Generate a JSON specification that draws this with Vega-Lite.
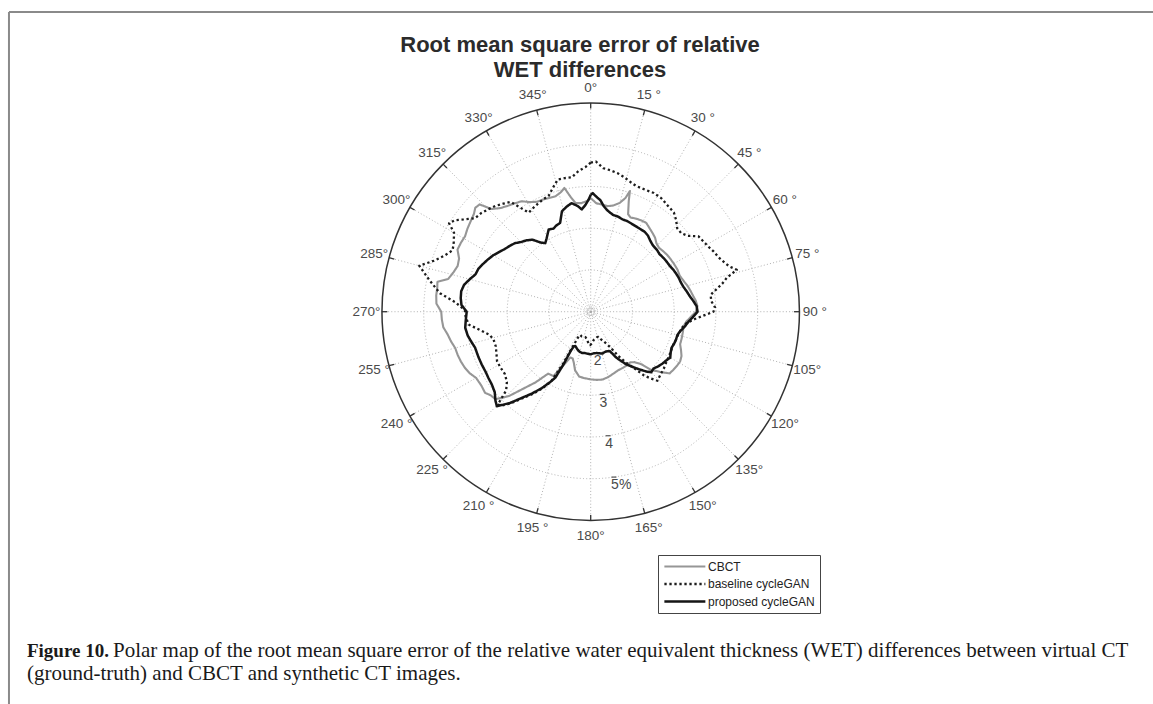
{
  "$schema": "https://vega.github.io/schema/vega-lite/v6.json",
  "width": 1153,
  "height": 704,
  "autosize": "none",
  "padding": 0,
  "background": "white",
  "config": {"view": {"stroke": null}, "font": "Liberation Sans"},
  "datasets": {
    "curves": [
      {"series":"CBCT","angle":0,"value":3.72},{"series":"CBCT","angle":3,"value":3.6},{"series":"CBCT","angle":6,"value":3.58},{"series":"CBCT","angle":9,"value":3.56},{"series":"CBCT","angle":12,"value":3.6},{"series":"CBCT","angle":15,"value":3.7},{"series":"CBCT","angle":17,"value":3.85},{"series":"CBCT","angle":18,"value":4.04},{"series":"CBCT","angle":19,"value":3.8},{"series":"CBCT","angle":21,"value":3.5},{"series":"CBCT","angle":23,"value":3.45},{"series":"CBCT","angle":26,"value":3.48},{"series":"CBCT","angle":29,"value":3.5},{"series":"CBCT","angle":32,"value":3.51},{"series":"CBCT","angle":35,"value":3.45},{"series":"CBCT","angle":38,"value":3.4},{"series":"CBCT","angle":41,"value":3.35},{"series":"CBCT","angle":44,"value":3.27},{"series":"CBCT","angle":47,"value":3.24},{"series":"CBCT","angle":50,"value":3.26},{"series":"CBCT","angle":53,"value":3.28},{"series":"CBCT","angle":56,"value":3.29},{"series":"CBCT","angle":60,"value":3.3},{"series":"CBCT","angle":64,"value":3.31},{"series":"CBCT","angle":68,"value":3.3},{"series":"CBCT","angle":72,"value":3.35},{"series":"CBCT","angle":75,"value":3.4},{"series":"CBCT","angle":78,"value":3.44},{"series":"CBCT","angle":81,"value":3.48},{"series":"CBCT","angle":84,"value":3.53},{"series":"CBCT","angle":87,"value":3.56},{"series":"CBCT","angle":90,"value":3.52},{"series":"CBCT","angle":93,"value":3.4},{"series":"CBCT","angle":96,"value":3.3},{"series":"CBCT","angle":99,"value":3.25},{"series":"CBCT","angle":102,"value":3.26},{"series":"CBCT","angle":106,"value":3.27},{"series":"CBCT","angle":110,"value":3.28},{"series":"CBCT","angle":113,"value":3.35},{"series":"CBCT","angle":116,"value":3.42},{"series":"CBCT","angle":119,"value":3.45},{"series":"CBCT","angle":122,"value":3.44},{"series":"CBCT","angle":125,"value":3.42},{"series":"CBCT","angle":128,"value":3.4},{"series":"CBCT","angle":131,"value":3.2},{"series":"CBCT","angle":134,"value":3.0},{"series":"CBCT","angle":136,"value":2.75},{"series":"CBCT","angle":139,"value":2.6},{"series":"CBCT","angle":142,"value":2.54},{"series":"CBCT","angle":146,"value":2.55},{"series":"CBCT","angle":150,"value":2.55},{"series":"CBCT","angle":155,"value":2.55},{"series":"CBCT","angle":160,"value":2.58},{"series":"CBCT","angle":165,"value":2.62},{"series":"CBCT","angle":170,"value":2.65},{"series":"CBCT","angle":175,"value":2.64},{"series":"CBCT","angle":180,"value":2.62},{"series":"CBCT","angle":185,"value":2.6},{"series":"CBCT","angle":190,"value":2.58},{"series":"CBCT","angle":195,"value":2.45},{"series":"CBCT","angle":198,"value":2.3},{"series":"CBCT","angle":201,"value":2.2},{"series":"CBCT","angle":204,"value":2.2},{"series":"CBCT","angle":207,"value":2.45},{"series":"CBCT","angle":210,"value":2.78},{"series":"CBCT","angle":214.5,"value":2.8},{"series":"CBCT","angle":218,"value":3.15},{"series":"CBCT","angle":221.5,"value":3.48},{"series":"CBCT","angle":224,"value":3.8},{"series":"CBCT","angle":227.4,"value":4.1},{"series":"CBCT","angle":230,"value":4.12},{"series":"CBCT","angle":232.5,"value":4.19},{"series":"CBCT","angle":236,"value":4.16},{"series":"CBCT","angle":240,"value":4.17},{"series":"CBCT","angle":243,"value":4.25},{"series":"CBCT","angle":246,"value":4.3},{"series":"CBCT","angle":249,"value":4.33},{"series":"CBCT","angle":252,"value":4.35},{"series":"CBCT","angle":255,"value":4.36},{"series":"CBCT","angle":258,"value":4.42},{"series":"CBCT","angle":261,"value":4.47},{"series":"CBCT","angle":264,"value":4.55},{"series":"CBCT","angle":267,"value":4.57},{"series":"CBCT","angle":270,"value":4.58},{"series":"CBCT","angle":273,"value":4.7},{"series":"CBCT","angle":276,"value":4.72},{"series":"CBCT","angle":279,"value":4.72},{"series":"CBCT","angle":281,"value":4.74},{"series":"CBCT","angle":283,"value":4.5},{"series":"CBCT","angle":286,"value":4.42},{"series":"CBCT","angle":289,"value":4.37},{"series":"CBCT","angle":292,"value":4.4},{"series":"CBCT","angle":295,"value":4.52},{"series":"CBCT","angle":298,"value":4.52},{"series":"CBCT","angle":301,"value":4.51},{"series":"CBCT","angle":304,"value":4.56},{"series":"CBCT","angle":307,"value":4.6},{"series":"CBCT","angle":310,"value":4.65},{"series":"CBCT","angle":312,"value":4.72},{"series":"CBCT","angle":314,"value":4.7},{"series":"CBCT","angle":316,"value":4.42},{"series":"CBCT","angle":319,"value":4.29},{"series":"CBCT","angle":322,"value":4.22},{"series":"CBCT","angle":325,"value":4.17},{"series":"CBCT","angle":328,"value":4.12},{"series":"CBCT","angle":331,"value":4.0},{"series":"CBCT","angle":334,"value":3.93},{"series":"CBCT","angle":337,"value":3.92},{"series":"CBCT","angle":340,"value":3.9},{"series":"CBCT","angle":343,"value":3.89},{"series":"CBCT","angle":346,"value":3.95},{"series":"CBCT","angle":348,"value":4.03},{"series":"CBCT","angle":350,"value":3.8},{"series":"CBCT","angle":352,"value":3.63},{"series":"CBCT","angle":355,"value":3.61},{"series":"CBCT","angle":358,"value":3.65},{"series":"CBCT","angle":360,"value":3.72},
      {"series":"baseline cycleGAN","angle":0,"value":4.57},{"series":"baseline cycleGAN","angle":2,"value":4.6},{"series":"baseline cycleGAN","angle":5,"value":4.45},{"series":"baseline cycleGAN","angle":8,"value":4.42},{"series":"baseline cycleGAN","angle":11,"value":4.38},{"series":"baseline cycleGAN","angle":14,"value":4.32},{"series":"baseline cycleGAN","angle":17,"value":4.25},{"series":"baseline cycleGAN","angle":20,"value":4.2},{"series":"baseline cycleGAN","angle":24,"value":4.2},{"series":"baseline cycleGAN","angle":28,"value":4.22},{"series":"baseline cycleGAN","angle":32,"value":4.2},{"series":"baseline cycleGAN","angle":36,"value":4.14},{"series":"baseline cycleGAN","angle":40,"value":4.1},{"series":"baseline cycleGAN","angle":43,"value":4.0},{"series":"baseline cycleGAN","angle":46,"value":3.88},{"series":"baseline cycleGAN","angle":49,"value":3.87},{"series":"baseline cycleGAN","angle":52,"value":3.95},{"series":"baseline cycleGAN","angle":55,"value":4.15},{"series":"baseline cycleGAN","angle":58,"value":4.18},{"series":"baseline cycleGAN","angle":61,"value":4.22},{"series":"baseline cycleGAN","angle":64,"value":4.28},{"series":"baseline cycleGAN","angle":67,"value":4.33},{"series":"baseline cycleGAN","angle":70,"value":4.42},{"series":"baseline cycleGAN","angle":72,"value":4.5},{"series":"baseline cycleGAN","angle":74,"value":4.64},{"series":"baseline cycleGAN","angle":76,"value":4.36},{"series":"baseline cycleGAN","angle":78,"value":4.22},{"series":"baseline cycleGAN","angle":80,"value":4.05},{"series":"baseline cycleGAN","angle":82,"value":3.9},{"series":"baseline cycleGAN","angle":85,"value":3.9},{"series":"baseline cycleGAN","angle":88,"value":3.98},{"series":"baseline cycleGAN","angle":90,"value":3.94},{"series":"baseline cycleGAN","angle":92,"value":3.7},{"series":"baseline cycleGAN","angle":94,"value":3.5},{"series":"baseline cycleGAN","angle":97,"value":3.3},{"series":"baseline cycleGAN","angle":100,"value":3.22},{"series":"baseline cycleGAN","angle":104,"value":3.17},{"series":"baseline cycleGAN","angle":108,"value":3.15},{"series":"baseline cycleGAN","angle":112,"value":3.13},{"series":"baseline cycleGAN","angle":116,"value":3.14},{"series":"baseline cycleGAN","angle":120,"value":3.16},{"series":"baseline cycleGAN","angle":124,"value":3.18},{"series":"baseline cycleGAN","angle":128,"value":3.22},{"series":"baseline cycleGAN","angle":132,"value":3.25},{"series":"baseline cycleGAN","angle":136,"value":3.3},{"series":"baseline cycleGAN","angle":138,"value":3.15},{"series":"baseline cycleGAN","angle":140,"value":3.0},{"series":"baseline cycleGAN","angle":142,"value":2.75},{"series":"baseline cycleGAN","angle":145,"value":2.5},{"series":"baseline cycleGAN","angle":148,"value":2.25},{"series":"baseline cycleGAN","angle":151,"value":1.98},{"series":"baseline cycleGAN","angle":154,"value":1.85},{"series":"baseline cycleGAN","angle":157,"value":1.76},{"series":"baseline cycleGAN","angle":160,"value":1.7},{"series":"baseline cycleGAN","angle":163,"value":1.63},{"series":"baseline cycleGAN","angle":166,"value":1.63},{"series":"baseline cycleGAN","angle":170,"value":1.66},{"series":"baseline cycleGAN","angle":174,"value":1.68},{"series":"baseline cycleGAN","angle":178,"value":1.76},{"series":"baseline cycleGAN","angle":181,"value":1.8},{"series":"baseline cycleGAN","angle":184,"value":1.76},{"series":"baseline cycleGAN","angle":188,"value":1.66},{"series":"baseline cycleGAN","angle":192,"value":1.62},{"series":"baseline cycleGAN","angle":196,"value":1.62},{"series":"baseline cycleGAN","angle":200,"value":1.63},{"series":"baseline cycleGAN","angle":204,"value":1.61},{"series":"baseline cycleGAN","angle":206,"value":1.65},{"series":"baseline cycleGAN","angle":207,"value":1.88},{"series":"baseline cycleGAN","angle":208,"value":2.4},{"series":"baseline cycleGAN","angle":209.5,"value":2.9},{"series":"baseline cycleGAN","angle":212,"value":3.15},{"series":"baseline cycleGAN","angle":215,"value":3.4},{"series":"baseline cycleGAN","angle":218,"value":3.62},{"series":"baseline cycleGAN","angle":221,"value":3.9},{"series":"baseline cycleGAN","angle":223.5,"value":4.1},{"series":"baseline cycleGAN","angle":225,"value":4.15},{"series":"baseline cycleGAN","angle":227,"value":3.77},{"series":"baseline cycleGAN","angle":230,"value":3.62},{"series":"baseline cycleGAN","angle":234,"value":3.54},{"series":"baseline cycleGAN","angle":238,"value":3.54},{"series":"baseline cycleGAN","angle":242,"value":3.54},{"series":"baseline cycleGAN","angle":246,"value":3.47},{"series":"baseline cycleGAN","angle":250,"value":3.42},{"series":"baseline cycleGAN","angle":254,"value":3.42},{"series":"baseline cycleGAN","angle":257,"value":3.48},{"series":"baseline cycleGAN","angle":260,"value":3.65},{"series":"baseline cycleGAN","angle":264,"value":3.94},{"series":"baseline cycleGAN","angle":268,"value":4.0},{"series":"baseline cycleGAN","angle":270,"value":4.0},{"series":"baseline cycleGAN","angle":272,"value":4.1},{"series":"baseline cycleGAN","angle":274,"value":4.25},{"series":"baseline cycleGAN","angle":277,"value":4.64},{"series":"baseline cycleGAN","angle":281,"value":4.93},{"series":"baseline cycleGAN","angle":285,"value":5.25},{"series":"baseline cycleGAN","angle":288,"value":4.95},{"series":"baseline cycleGAN","angle":291,"value":4.75},{"series":"baseline cycleGAN","angle":294,"value":4.62},{"series":"baseline cycleGAN","angle":297,"value":4.68},{"series":"baseline cycleGAN","angle":300,"value":4.78},{"series":"baseline cycleGAN","angle":302,"value":5.0},{"series":"baseline cycleGAN","angle":304,"value":4.92},{"series":"baseline cycleGAN","angle":306,"value":4.76},{"series":"baseline cycleGAN","angle":309,"value":4.56},{"series":"baseline cycleGAN","angle":312,"value":4.53},{"series":"baseline cycleGAN","angle":315,"value":4.47},{"series":"baseline cycleGAN","angle":318,"value":4.41},{"series":"baseline cycleGAN","angle":321,"value":4.33},{"series":"baseline cycleGAN","angle":324,"value":4.25},{"series":"baseline cycleGAN","angle":326,"value":4.0},{"series":"baseline cycleGAN","angle":328,"value":3.8},{"series":"baseline cycleGAN","angle":331,"value":3.84},{"series":"baseline cycleGAN","angle":334,"value":3.88},{"series":"baseline cycleGAN","angle":337,"value":3.92},{"series":"baseline cycleGAN","angle":340,"value":3.95},{"series":"baseline cycleGAN","angle":343,"value":4.1},{"series":"baseline cycleGAN","angle":346,"value":4.26},{"series":"baseline cycleGAN","angle":349,"value":4.26},{"series":"baseline cycleGAN","angle":352,"value":4.25},{"series":"baseline cycleGAN","angle":355,"value":4.38},{"series":"baseline cycleGAN","angle":358,"value":4.47},{"series":"baseline cycleGAN","angle":360,"value":4.57},
      {"series":"proposed cycleGAN","angle":0,"value":3.8},{"series":"proposed cycleGAN","angle":1,"value":3.84},{"series":"proposed cycleGAN","angle":3,"value":3.75},{"series":"proposed cycleGAN","angle":5,"value":3.68},{"series":"proposed cycleGAN","angle":7,"value":3.55},{"series":"proposed cycleGAN","angle":9,"value":3.47},{"series":"proposed cycleGAN","angle":11,"value":3.42},{"series":"proposed cycleGAN","angle":13,"value":3.38},{"series":"proposed cycleGAN","angle":16,"value":3.37},{"series":"proposed cycleGAN","angle":19,"value":3.34},{"series":"proposed cycleGAN","angle":22,"value":3.34},{"series":"proposed cycleGAN","angle":26,"value":3.32},{"series":"proposed cycleGAN","angle":30,"value":3.31},{"series":"proposed cycleGAN","angle":34,"value":3.31},{"series":"proposed cycleGAN","angle":37,"value":3.28},{"series":"proposed cycleGAN","angle":40,"value":3.22},{"series":"proposed cycleGAN","angle":43,"value":3.18},{"series":"proposed cycleGAN","angle":47,"value":3.17},{"series":"proposed cycleGAN","angle":50,"value":3.15},{"series":"proposed cycleGAN","angle":54,"value":3.17},{"series":"proposed cycleGAN","angle":57,"value":3.18},{"series":"proposed cycleGAN","angle":60,"value":3.19},{"series":"proposed cycleGAN","angle":63,"value":3.22},{"series":"proposed cycleGAN","angle":66,"value":3.24},{"series":"proposed cycleGAN","angle":69,"value":3.26},{"series":"proposed cycleGAN","angle":72,"value":3.27},{"series":"proposed cycleGAN","angle":75,"value":3.3},{"series":"proposed cycleGAN","angle":78,"value":3.35},{"series":"proposed cycleGAN","angle":81,"value":3.4},{"series":"proposed cycleGAN","angle":84,"value":3.47},{"series":"proposed cycleGAN","angle":87,"value":3.54},{"series":"proposed cycleGAN","angle":90,"value":3.56},{"series":"proposed cycleGAN","angle":93,"value":3.45},{"series":"proposed cycleGAN","angle":96,"value":3.35},{"series":"proposed cycleGAN","angle":99,"value":3.28},{"series":"proposed cycleGAN","angle":102,"value":3.2},{"series":"proposed cycleGAN","angle":105,"value":3.15},{"series":"proposed cycleGAN","angle":108,"value":3.15},{"series":"proposed cycleGAN","angle":111,"value":3.14},{"series":"proposed cycleGAN","angle":114,"value":3.12},{"series":"proposed cycleGAN","angle":117,"value":3.15},{"series":"proposed cycleGAN","angle":120,"value":3.2},{"series":"proposed cycleGAN","angle":123,"value":3.15},{"series":"proposed cycleGAN","angle":126,"value":3.12},{"series":"proposed cycleGAN","angle":129,"value":3.08},{"series":"proposed cycleGAN","angle":132,"value":3.03},{"series":"proposed cycleGAN","angle":135,"value":3.05},{"series":"proposed cycleGAN","angle":137,"value":2.96},{"series":"proposed cycleGAN","angle":140,"value":2.8},{"series":"proposed cycleGAN","angle":143,"value":2.65},{"series":"proposed cycleGAN","angle":146,"value":2.52},{"series":"proposed cycleGAN","angle":149,"value":2.35},{"series":"proposed cycleGAN","angle":151,"value":2.25},{"series":"proposed cycleGAN","angle":154,"value":2.05},{"series":"proposed cycleGAN","angle":157,"value":2.03},{"series":"proposed cycleGAN","angle":160,"value":2.02},{"series":"proposed cycleGAN","angle":164,"value":2.04},{"series":"proposed cycleGAN","angle":168,"value":2.02},{"series":"proposed cycleGAN","angle":172,"value":2.0},{"series":"proposed cycleGAN","angle":176,"value":2.0},{"series":"proposed cycleGAN","angle":180,"value":2.02},{"series":"proposed cycleGAN","angle":184,"value":2.01},{"series":"proposed cycleGAN","angle":188,"value":2.0},{"series":"proposed cycleGAN","angle":192,"value":2.01},{"series":"proposed cycleGAN","angle":196,"value":1.99},{"series":"proposed cycleGAN","angle":200,"value":1.95},{"series":"proposed cycleGAN","angle":204,"value":1.9},{"series":"proposed cycleGAN","angle":206,"value":1.92},{"series":"proposed cycleGAN","angle":207,"value":2.05},{"series":"proposed cycleGAN","angle":207.3,"value":2.42},{"series":"proposed cycleGAN","angle":208.2,"value":2.79},{"series":"proposed cycleGAN","angle":210,"value":2.95},{"series":"proposed cycleGAN","angle":212.6,"value":3.17},{"series":"proposed cycleGAN","angle":215.5,"value":3.4},{"series":"proposed cycleGAN","angle":218.6,"value":3.64},{"series":"proposed cycleGAN","angle":221.5,"value":3.92},{"series":"proposed cycleGAN","angle":224.8,"value":4.19},{"series":"proposed cycleGAN","angle":227,"value":4.12},{"series":"proposed cycleGAN","angle":230,"value":4.0},{"series":"proposed cycleGAN","angle":233.7,"value":3.94},{"series":"proposed cycleGAN","angle":237,"value":3.92},{"series":"proposed cycleGAN","angle":240,"value":3.9},{"series":"proposed cycleGAN","angle":244,"value":3.9},{"series":"proposed cycleGAN","angle":248,"value":3.9},{"series":"proposed cycleGAN","angle":252.7,"value":3.9},{"series":"proposed cycleGAN","angle":256,"value":3.95},{"series":"proposed cycleGAN","angle":259,"value":4.0},{"series":"proposed cycleGAN","angle":262.7,"value":4.03},{"series":"proposed cycleGAN","angle":266,"value":4.0},{"series":"proposed cycleGAN","angle":270,"value":3.97},{"series":"proposed cycleGAN","angle":273,"value":4.1},{"series":"proposed cycleGAN","angle":276,"value":4.13},{"series":"proposed cycleGAN","angle":279,"value":4.14},{"series":"proposed cycleGAN","angle":282,"value":4.1},{"series":"proposed cycleGAN","angle":285,"value":4.0},{"series":"proposed cycleGAN","angle":288,"value":3.9},{"series":"proposed cycleGAN","angle":291,"value":3.88},{"series":"proposed cycleGAN","angle":294,"value":3.82},{"series":"proposed cycleGAN","angle":297,"value":3.76},{"series":"proposed cycleGAN","angle":300,"value":3.7},{"series":"proposed cycleGAN","angle":303,"value":3.62},{"series":"proposed cycleGAN","angle":306,"value":3.55},{"series":"proposed cycleGAN","angle":309,"value":3.5},{"series":"proposed cycleGAN","angle":312,"value":3.45},{"series":"proposed cycleGAN","angle":315,"value":3.36},{"series":"proposed cycleGAN","angle":318,"value":3.3},{"series":"proposed cycleGAN","angle":321,"value":3.22},{"series":"proposed cycleGAN","angle":324,"value":3.05},{"series":"proposed cycleGAN","angle":326.5,"value":2.97},{"series":"proposed cycleGAN","angle":329,"value":3.05},{"series":"proposed cycleGAN","angle":332.9,"value":3.21},{"series":"proposed cycleGAN","angle":336,"value":3.18},{"series":"proposed cycleGAN","angle":338,"value":3.22},{"series":"proposed cycleGAN","angle":341,"value":3.25},{"series":"proposed cycleGAN","angle":344,"value":3.5},{"series":"proposed cycleGAN","angle":347,"value":3.58},{"series":"proposed cycleGAN","angle":350,"value":3.64},{"series":"proposed cycleGAN","angle":353,"value":3.55},{"series":"proposed cycleGAN","angle":355,"value":3.46},{"series":"proposed cycleGAN","angle":357,"value":3.55},{"series":"proposed cycleGAN","angle":359,"value":3.69},{"series":"proposed cycleGAN","angle":360,"value":3.8}
    ],
    "spokes": [
      {"angle":0,"label":"0°"},{"angle":15,"label":"15 °"},{"angle":30,"label":"30 °"},{"angle":45,"label":"45 °"},{"angle":60,"label":"60 °"},{"angle":75,"label":"75 °"},{"angle":90,"label":"90 °"},{"angle":105,"label":"105°"},{"angle":120,"label":"120°"},{"angle":135,"label":"135°"},{"angle":150,"label":"150°"},{"angle":165,"label":"165°"},{"angle":180,"label":"180°"},{"angle":195,"label":"195 °"},{"angle":210,"label":"210 °"},{"angle":225,"label":"225 °"},{"angle":240,"label":"240 °"},{"angle":255,"label":"255 °"},{"angle":270,"label":"270°"},{"angle":285,"label":"285°"},{"angle":300,"label":"300°"},{"angle":315,"label":"315°"},{"angle":330,"label":"330°"},{"angle":345,"label":"345°"}
    ],
    "rings": [
      {"r":1.06},{"r":1.12},{"r":2,"label":"2"},{"r":3,"label":"3"},{"r":4,"label":"4"},{"r":5,"label":"5%"}
    ],
    "outer": [{"r":6}]
  },
  "layer": [
    {
      "data": {"name": "rings"},
      "mark": {"type": "arc", "filled": false, "fill": null, "stroke": "#a8a8a8", "strokeWidth": 0.9, "strokeDash": [1, 2.2], "theta": 0, "theta2": 6.3},
      "encoding": {
        "x": {"datum": 0, "type": "quantitative", "scale": {"domain": [-14.148, 13.468]}, "axis": null},
        "y": {"datum": 0, "type": "quantitative", "scale": {"domain": [-9.396, 7.466]}, "axis": null},
        "radius": {"field": "r", "type": "quantitative", "stack": null, "scale": {"type": "linear", "domain": [1, 6], "range": [0, 208.75], "zero": false}, "legend": null}
      }
    },
    {
      "data": {"name": "spokes"},
      "transform": [
        {"calculate": "5 * sin(datum.angle * PI / 180)", "as": "xe"},
        {"calculate": "5 * cos(datum.angle * PI / 180)", "as": "ye"},
        {"calculate": "0", "as": "x0"}
      ],
      "mark": {"type": "rule", "stroke": "#a8a8a8", "strokeWidth": 0.9, "strokeDash": [1, 2.2]},
      "encoding": {
        "x": {"field": "x0", "type": "quantitative", "scale": {"domain": [-14.148, 13.468]}, "axis": null},
        "y": {"field": "x0", "type": "quantitative", "scale": {"domain": [-9.396, 7.466]}, "axis": null},
        "x2": {"field": "xe"},
        "y2": {"field": "ye"}
      }
    },
    {
      "data": {"name": "outer"},
      "mark": {"type": "arc", "filled": false, "fill": null, "stroke": "#333333", "strokeWidth": 1.5, "theta": 0, "theta2": 6.3},
      "encoding": {
        "x": {"datum": 0, "type": "quantitative", "scale": {"domain": [-14.148, 13.468]}, "axis": null},
        "y": {"datum": 0, "type": "quantitative", "scale": {"domain": [-9.396, 7.466]}, "axis": null},
        "radius": {"field": "r", "type": "quantitative", "stack": null, "scale": {"type": "linear", "domain": [1, 6], "range": [0, 208.75], "zero": false}, "legend": null}
      }
    },
    {
      "data": {"name": "spokes"},
      "transform": [
        {"calculate": "5 * sin(datum.angle * PI / 180)", "as": "xe"},
        {"calculate": "5 * cos(datum.angle * PI / 180)", "as": "ye"},
        {"calculate": "4.87 * sin(datum.angle * PI / 180)", "as": "xs"},
        {"calculate": "4.87 * cos(datum.angle * PI / 180)", "as": "ys"}
      ],
      "mark": {"type": "rule", "stroke": "#333333", "strokeWidth": 1.3},
      "encoding": {
        "x": {"field": "xs", "type": "quantitative", "scale": {"domain": [-14.148, 13.468]}, "axis": null},
        "y": {"field": "ys", "type": "quantitative", "scale": {"domain": [-9.396, 7.466]}, "axis": null},
        "x2": {"field": "xe"},
        "y2": {"field": "ye"}
      }
    },
    {
      "data": {"name": "rings"},
      "transform": [
        {"filter": "datum.r >= 2"},
        {"calculate": "(datum.r - 1) * sin(172 * PI / 180) - 0.06", "as": "tx1"},
        {"calculate": "(datum.r - 1) * sin(172 * PI / 180) + 0.06", "as": "tx2"},
        {"calculate": "(datum.r - 1) * cos(172 * PI / 180)", "as": "ty"}
      ],
      "mark": {"type": "rule", "stroke": "#555555", "strokeWidth": 1.2},
      "encoding": {
        "x": {"field": "tx1", "type": "quantitative", "scale": {"domain": [-14.148, 13.468]}, "axis": null},
        "x2": {"field": "tx2"},
        "y": {"field": "ty", "type": "quantitative", "scale": {"domain": [-9.396, 7.466]}, "axis": null}
      }
    },
    {
      "data": {"name": "curves"},
      "transform": [
        {"calculate": "(datum.value - 1) * sin(datum.angle * PI / 180)", "as": "px"},
        {"calculate": "(datum.value - 1) * cos(datum.angle * PI / 180)", "as": "py"}
      ],
      "mark": {"type": "line", "strokeJoin": "round"},
      "encoding": {
        "x": {"field": "px", "type": "quantitative", "scale": {"domain": [-14.148, 13.468]}, "axis": null},
        "y": {"field": "py", "type": "quantitative", "scale": {"domain": [-9.396, 7.466]}, "axis": null},
        "order": {"field": "angle", "type": "quantitative"},
        "color": {
          "field": "series", "type": "nominal",
          "scale": {"domain": ["CBCT", "baseline cycleGAN", "proposed cycleGAN"], "range": ["#969696", "#1c1c1c", "#151515"]},
          "legend": {
            "title": null, "orient": "none", "legendX": 658, "legendY": 555,
            "symbolType": "M-1,0H7", "symbolSize": 105,
            "labelFont": "Liberation Sans", "labelFontSize": 12, "labelColor": "#222222", "labelOffset": 32,
            "padding": 5, "rowPadding": 4.5, "strokeColor": "#444444", "fillColor": "white", "cornerRadius": 0
          }
        },
        "strokeDash": {
          "field": "series", "type": "nominal",
          "scale": {"domain": ["CBCT", "baseline cycleGAN", "proposed cycleGAN"], "range": [[1, 0], [2.3, 2.7], [1, 0]]},
          "legend": {"title": null}
        },
        "strokeWidth": {
          "field": "series", "type": "nominal",
          "scale": {"domain": ["CBCT", "baseline cycleGAN", "proposed cycleGAN"], "range": [2.1, 2.5, 2.3]},
          "legend": {"title": null}
        }
      }
    },
    {
      "data": {"name": "spokes"},
      "transform": [
        {"calculate": "5.37 * sin(datum.angle * PI / 180)", "as": "lx"},
        {"calculate": "5.37 * cos(datum.angle * PI / 180)", "as": "ly"}
      ],
      "mark": {"type": "text", "font": "Liberation Sans", "fontSize": 13.5, "fill": "#4a4a4a", "align": "center", "baseline": "middle"},
      "encoding": {
        "x": {"field": "lx", "type": "quantitative", "scale": {"domain": [-14.148, 13.468]}, "axis": null},
        "y": {"field": "ly", "type": "quantitative", "scale": {"domain": [-9.396, 7.466]}, "axis": null},
        "text": {"field": "label"}
      }
    },
    {
      "data": {"name": "rings"},
      "transform": [
        {"filter": "datum.r >= 2"},
        {"calculate": "(datum.r - 0.8) * sin(172 * PI / 180)", "as": "lx"},
        {"calculate": "(datum.r - 0.8) * cos(172 * PI / 180)", "as": "ly"}
      ],
      "mark": {"type": "text", "font": "Liberation Sans", "fontSize": 14, "fill": "#4a4a4a", "align": "left", "baseline": "middle", "dx": -4},
      "encoding": {
        "x": {"field": "lx", "type": "quantitative", "scale": {"domain": [-14.148, 13.468]}, "axis": null},
        "y": {"field": "ly", "type": "quantitative", "scale": {"domain": [-9.396, 7.466]}, "axis": null},
        "text": {"field": "label"}
      }
    },
    {
      "data": {"values": [{}]},
      "mark": {"type": "text", "text": ["Root mean square error of relative", "WET differences"], "font": "Liberation Sans", "fontSize": 22, "fontWeight": "bold", "fill": "#2b2b2b", "align": "center", "baseline": "alphabetic", "lineHeight": 24.5},
      "encoding": {
        "x": {"datum": -0.256, "type": "quantitative", "scale": {"domain": [-14.148, 13.468]}, "axis": null},
        "y": {"datum": 6.22, "type": "quantitative", "scale": {"domain": [-9.396, 7.466]}, "axis": null}
      }
    },
    {
      "data": {"values": [{}]},
      "mark": {"type": "text", "text": "Figure 10.", "font": "Liberation Serif", "fontSize": 19, "fontWeight": "bold", "fill": "#1a1a1a", "align": "left", "baseline": "alphabetic"},
      "encoding": {
        "x": {"datum": -13.502, "type": "quantitative", "scale": {"domain": [-14.148, 13.468]}, "axis": null},
        "y": {"datum": -8.271, "type": "quantitative", "scale": {"domain": [-9.396, 7.466]}, "axis": null}
      }
    },
    {
      "data": {"values": [{}]},
      "mark": {"type": "text", "text": "Polar map of the root mean square error of the relative water equivalent thickness (WET) differences between virtual CT", "font": "Liberation Serif", "fontSize": 21, "fill": "#1a1a1a", "align": "left", "baseline": "alphabetic"},
      "encoding": {
        "x": {"datum": -11.442, "type": "quantitative", "scale": {"domain": [-14.148, 13.468]}, "axis": null},
        "y": {"datum": -8.271, "type": "quantitative", "scale": {"domain": [-9.396, 7.466]}, "axis": null}
      }
    },
    {
      "data": {"values": [{}]},
      "mark": {"type": "text", "text": "(ground-truth) and CBCT and synthetic CT images.", "font": "Liberation Serif", "fontSize": 21, "fill": "#1a1a1a", "align": "left", "baseline": "alphabetic"},
      "encoding": {
        "x": {"datum": -13.502, "type": "quantitative", "scale": {"domain": [-14.148, 13.468]}, "axis": null},
        "y": {"datum": -8.822, "type": "quantitative", "scale": {"domain": [-9.396, 7.466]}, "axis": null}
      }
    },
    {
      "data": {"values": [{}]},
      "mark": {"type": "rule", "stroke": "#8a8a8a", "strokeWidth": 2},
      "encoding": {
        "x": {"datum": -13.933, "type": "quantitative", "scale": {"domain": [-14.148, 13.468]}, "axis": null},
        "x2": {"datum": 13.468},
        "y": {"datum": 7.178, "type": "quantitative", "scale": {"domain": [-9.396, 7.466]}, "axis": null}
      }
    },
    {
      "data": {"values": [{}]},
      "mark": {"type": "rule", "stroke": "#8a8a8a", "strokeWidth": 2},
      "encoding": {
        "x": {"datum": -13.933, "type": "quantitative", "scale": {"domain": [-14.148, 13.468]}, "axis": null},
        "y": {"datum": 7.178, "type": "quantitative", "scale": {"domain": [-9.396, 7.466]}, "axis": null},
        "y2": {"datum": -9.396}
      }
    }
  ]
}
